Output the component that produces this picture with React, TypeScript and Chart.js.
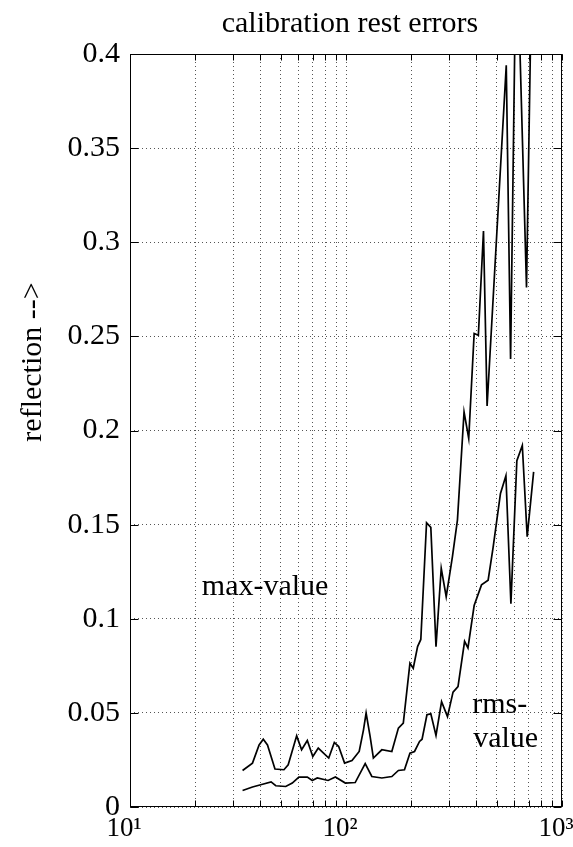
import React, { useEffect, useRef } from 'react';
import { Chart, registerables } from 'chart.js';

Chart.register(...registerables);

const chartTitle = 'calibration rest errors';
const yAxisTitle = 'reflection -->';

// max-value curve (frequency, reflection)
const maxFreq = [
  33.2, 36.9, 39.6, 41.4, 43.3, 46.9, 51.6, 54.0, 59.1, 62.3,
  66.2, 70.2, 74.4, 83.2, 88.3, 92.5, 98.5, 106.6, 115.1, 120.5,
  123.9, 129.3, 133.9, 146.5, 163, 174.8, 184.2, 197.7, 204.8, 214.5,
  222, 236, 247, 261, 276, 291, 311, 328, 352, 370,
  392, 410, 433, 450, 552, 578, 615, 685, 730,
];
const maxValue = [
  0.0194, 0.0233, 0.033, 0.036, 0.033, 0.0202, 0.0198, 0.0224, 0.0378, 0.0304,
  0.0353, 0.0268, 0.0313, 0.026, 0.0343, 0.0321, 0.0233, 0.0247, 0.0295, 0.041,
  0.0499, 0.0375, 0.026, 0.0304, 0.0295, 0.0419, 0.0446, 0.0764, 0.0737, 0.0852,
  0.089, 0.151, 0.1485, 0.0852, 0.1268, 0.1117, 0.133, 0.1524, 0.2099, 0.1958,
  0.2515, 0.2506, 0.306, 0.213, 0.394, 0.238, 0.47, 0.276, 0.47,
];

// rms-value curve (frequency, reflection)
const rmsFreq = [
  33.2, 36.9, 40.3, 45.0, 47.3, 52.6, 56.4, 60.5, 66.2, 69.8,
  73.6, 82.6, 89.3, 99.3, 110.3, 122.7, 131.7, 146.5, 163, 174.8,
  186.5, 197.7, 207.6, 219, 225, 237, 247, 261, 277, 295,
  313, 330, 354, 367, 392, 424, 455, 480, 519, 550,
  580, 618, 655, 690, 739,
];
const rmsValue = [
  0.0088, 0.0106, 0.0118, 0.0133, 0.0113, 0.0109, 0.0127, 0.0159, 0.0159, 0.0141,
  0.0154, 0.0141, 0.0159, 0.0127, 0.013, 0.023, 0.0162, 0.0154, 0.0162, 0.0194,
  0.0198, 0.0286, 0.0295, 0.0348, 0.036, 0.049, 0.0495, 0.038, 0.056, 0.048,
  0.061, 0.064, 0.088, 0.0845, 0.107, 0.118, 0.1205, 0.138, 0.1666, 0.176,
  0.108, 0.184, 0.192, 0.1436, 0.178,
];

const xTickValues = [10, 20, 30, 40, 50, 60, 70, 80, 90, 100, 200, 300, 400, 500, 600, 700, 800, 900, 1000];
const xTickLabels: Record<number, string> = { 10: '10\u00B9', 100: '10\u00B2', 1000: '10\u00B3' };
const yTickValues = [0, 0.05, 0.1, 0.15, 0.2, 0.25, 0.3, 0.35, 0.4];

const annotationTexts = ['max-value', 'rms-', 'value'];
const annotationX = [21.5, 384, 388];
const annotationY = [0.1126, 0.0499, 0.0321];

const FONT = "'Liberation Serif', 'Times New Roman', serif";
const FONT_SIZE = 30;

export default function App() {
  const ref = useRef<HTMLCanvasElement>(null);

  useEffect(() => {
    const canvas = ref.current;
    if (!canvas) return;

    const framePlugin = {
      id: 'frameAndText',
      afterDraw(chart: any) {
        const { ctx, chartArea } = chart;
        const xs = chart.scales.x;
        const ys = chart.scales.y;
        const l = Math.round(chartArea.left) + 0.5;
        const r = Math.round(chartArea.right) - 0.5;
        const t = Math.round(chartArea.top) + 0.5;
        const b = Math.round(chartArea.bottom) - 0.5;
        ctx.save();
        ctx.strokeStyle = '#000';
        ctx.lineWidth = 1;
        ctx.setLineDash([]);
        ctx.strokeRect(l, t, r - l, b - t);
        ctx.beginPath();
        for (const v of yTickValues) {
          const py = Math.round(ys.getPixelForValue(v)) + 0.5;
          ctx.moveTo(l, py); ctx.lineTo(l + 8, py);
          ctx.moveTo(r, py); ctx.lineTo(r - 8, py);
        }
        for (const v of xTickValues) {
          const px = Math.round(xs.getPixelForValue(v)) + 0.5;
          ctx.moveTo(px, b); ctx.lineTo(px, b - 6);
          ctx.moveTo(px, t); ctx.lineTo(px, t + 6);
        }
        ctx.stroke();

        ctx.fillStyle = '#000';
        ctx.font = `${FONT_SIZE}px ${FONT}`;
        ctx.textBaseline = 'alphabetic';

        ctx.textAlign = 'center';
        ctx.fillText(chartTitle, (chartArea.left + chartArea.right) / 2 + 4, 32);

        ctx.textAlign = 'left';
        annotationTexts.forEach((txt, i) => {
          ctx.fillText(txt, xs.getPixelForValue(annotationX[i]), ys.getPixelForValue(annotationY[i]));
        });

        ctx.translate(41, 362);
        ctx.rotate(-Math.PI / 2);
        ctx.textAlign = 'center';
        ctx.fillText(yAxisTitle, 0, 0);
        ctx.restore();
      },
    };

    const gridOpts = { color: '#555', lineWidth: 1, drawTicks: false };
    const borderOpts = { display: false, dash: [1, 3] };
    const yTickFont = { family: FONT, size: FONT_SIZE, weight: 'normal' as const };
    const xTickFont = { family: FONT, size: 27, weight: 'normal' as const };

    const chart = new Chart(canvas, {
      type: 'line',
      data: {
        datasets: [
          {
            label: 'max-value',
            data: maxFreq.map((x, i) => ({ x, y: maxValue[i] })),
            borderColor: '#000',
            borderWidth: 1.7,
            pointRadius: 0,
            tension: 0,
            fill: false,
          },
          {
            label: 'rms-value',
            data: rmsFreq.map((x, i) => ({ x, y: rmsValue[i] })),
            borderColor: '#000',
            borderWidth: 1.7,
            pointRadius: 0,
            tension: 0,
            fill: false,
          },
        ],
      },
      options: {
        responsive: false,
        animation: false,
        devicePixelRatio: 1,
        layout: { padding: { left: 0, right: 11, top: 54, bottom: 0 } },
        plugins: {
          legend: { display: false },
          tooltip: { enabled: false },
          title: { display: false },
        },
        scales: {
          x: {
            type: 'logarithmic',
            min: 10,
            max: 1000,
            afterBuildTicks: (s: any) => {
              s.ticks = xTickValues.map((v) => ({ value: v, major: false }));
            },
            afterFit: (s: any) => {
              s.height = 40;
              s.paddingLeft = 0;
              s.paddingRight = 0;
            },
            ticks: {
              autoSkip: false,
              maxRotation: 0,
              minRotation: 0,
              padding: 6,
              labelOffset: -6,
              color: '#000',
              font: xTickFont,
              callback: (v: any) => xTickLabels[Number(v)] ?? '',
            },
            grid: gridOpts,
            border: borderOpts,
          },
          y: {
            type: 'linear',
            min: 0,
            max: 0.4,
            afterBuildTicks: (s: any) => {
              s.ticks = yTickValues.map((v) => ({ value: v }));
            },
            afterFit: (s: any) => {
              s.width = 130;
              s.paddingTop = 0;
            },
            ticks: {
              padding: 10,
              color: '#000',
              font: yTickFont,
              callback: (v: any) => String(Number(Number(v).toFixed(2))),
            },
            grid: gridOpts,
            border: borderOpts,
          },
        },
      },
      plugins: [framePlugin],
    } as any);

    return () => chart.destroy();
  }, []);

  return (
    <div style={{ position: 'absolute', left: 0, top: 0, width: 573, height: 847, background: '#fff' }}>
      <canvas ref={ref} width={573} height={847} style={{ display: 'block', width: 573, height: 847 }} />
    </div>
  );
}
